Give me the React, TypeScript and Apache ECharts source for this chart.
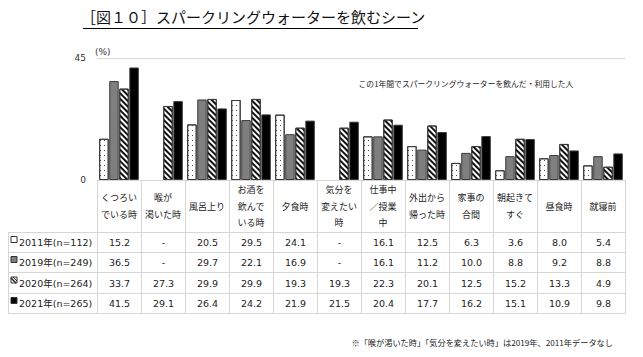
import { useEffect, useRef } from 'react';
import * as echarts from 'echarts';

const categories = [
  'くつろい\nでいる時', '喉が\n渇いた時', '風呂上り', 'お酒を\n飲んで\nいる時', '夕食時',
  '気分を\n変えたい\n時', '仕事中\n／授業\n中', '外出から\n帰った時', '家事の\n合間',
  '朝起きて\nすぐ', '昼食時', '就寝前',
];
const seriesNames = ['2011年(n=112)', '2019年(n=249)', '2020年(n=264)', '2021年(n=265)'];
const v2011 = [15.2, null, 20.5, 29.5, 24.1, null, 16.1, 12.5, 6.3, 3.6, 8.0, 5.4];
const v2019 = [36.5, null, 29.7, 22.1, 16.9, null, 16.1, 11.2, 10.0, 8.8, 9.2, 8.8];
const v2020 = [33.7, 27.3, 29.9, 29.9, 19.3, 19.3, 22.3, 20.1, 12.5, 15.2, 13.3, 4.9];
const v2021 = [41.5, 29.1, 26.4, 24.2, 21.9, 21.5, 20.4, 17.7, 16.2, 15.1, 10.9, 9.8];
const yMin = 0;
const yMax = 45;
const titleText = '［図１０］スパークリングウォーターを飲むシーン';
const noteText = 'この1年間でスパークリングウォーターを飲んだ・利用した人';
const footText = '※「喉が渇いた時」「気分を変えたい時」は2019年、2011年データなし';

const CJK = '"Noto Sans CJK JP", sans-serif';
const NUM = '"DejaVu Sans", "Noto Sans CJK JP", sans-serif';

export default function App() {
  const ref = useRef<HTMLDivElement>(null);
  useEffect(() => {
    if (!ref.current) return;
    const chart = echarts.init(ref.current, undefined, { renderer: 'svg' });
    const W = 643;
    const gridLeft = 97;
    const gridRight = 625;
    const gridTop = 58;
    const axisY = 180;
    const colW = (gridRight - gridLeft) / categories.length;
    const rowLines = [232, 252, 272, 293, 313];
    const tableLeft = 8;
    const lineColor = '#d6d6d6';
    const allSeries = [v2011, v2019, v2020, v2021];

    const graphics: any[] = [];
    graphics.push({
      type: 'text', x: 253, y: 16,
      style: { text: titleText, fontSize: 15, fontFamily: CJK, fill: '#111', align: 'center', verticalAlign: 'middle' },
    });
    graphics.push({ type: 'line', shape: { x1: 83, y1: 28.5, x2: 418, y2: 28.5 }, style: { stroke: '#000', lineWidth: 1 } });
    graphics.push({
      type: 'text', x: 95, y: 52,
      style: { text: '(%)', fontSize: 9, fontFamily: NUM, fill: '#333', align: 'left', verticalAlign: 'middle' },
    });
    graphics.push({
      type: 'text', x: 466, y: 83,
      style: { text: noteText, fontSize: 7.8, fontFamily: CJK, fill: '#222', align: 'center', verticalAlign: 'middle' },
    });
    graphics.push({
      type: 'text', x: 613, y: 342,
      style: { text: footText, fontSize: 8.2, fontFamily: CJK, fill: '#222', align: 'right', verticalAlign: 'middle' },
    });
    // table lines
    for (let i = 0; i <= categories.length; i++) {
      const x = Math.round(gridLeft + colW * i) + 0.5;
      graphics.push({ type: 'line', shape: { x1: x, y1: axisY, x2: x, y2: rowLines[rowLines.length - 1] }, style: { stroke: lineColor, lineWidth: 1 } });
    }
    graphics.push({ type: 'line', shape: { x1: tableLeft + 0.5, y1: rowLines[0], x2: tableLeft + 0.5, y2: rowLines[rowLines.length - 1] }, style: { stroke: lineColor, lineWidth: 1 } });
    rowLines.forEach((y) => {
      graphics.push({ type: 'line', shape: { x1: tableLeft, y1: y + 0.5, x2: gridRight + 1, y2: y + 0.5 }, style: { stroke: lineColor, lineWidth: 1 } });
    });
    // rows
    allSeries.forEach((vals, r) => {
      const cy = (rowLines[r] + rowLines[r + 1]) / 2 + 0.5;
      const mx = 11, my = cy - 6, ms = 6;
      if (r === 0) {
        graphics.push({ type: 'rect', shape: { x: mx, y: my, width: ms, height: ms }, style: { fill: '#fff', stroke: '#333', lineWidth: 1 } });
      } else if (r === 1) {
        graphics.push({ type: 'rect', shape: { x: mx, y: my, width: ms, height: ms }, style: { fill: '#7f7f7f', stroke: '#333', lineWidth: 1 } });
      } else if (r === 2) {
        graphics.push({ type: 'rect', shape: { x: mx, y: my, width: ms, height: ms }, style: { fill: '#fff', stroke: '#333', lineWidth: 1 } });
        graphics.push({ type: 'line', shape: { x1: mx, y1: my + 1, x2: mx + ms - 1, y2: my + ms }, style: { stroke: '#222', lineWidth: 1.4 } });
        graphics.push({ type: 'line', shape: { x1: mx + 2, y1: my, x2: mx + ms, y2: my + ms - 2 }, style: { stroke: '#222', lineWidth: 1 } });
      } else {
        graphics.push({ type: 'rect', shape: { x: mx, y: my, width: ms, height: ms }, style: { fill: '#000', stroke: '#333', lineWidth: 1 } });
      }
      graphics.push({
        type: 'text', x: 19, y: cy,
        style: { text: seriesNames[r], fontSize: 9.5, fontFamily: NUM, fill: '#222', align: 'left', verticalAlign: 'middle' },
      });
      vals.forEach((v, i) => {
        graphics.push({
          type: 'text', x: gridLeft + colW * i + colW / 2 + 0.5, y: cy,
          style: { text: v == null ? '-' : v.toFixed(1), fontSize: 9.5, fontFamily: NUM, fill: '#222', align: 'center', verticalAlign: 'middle' },
        });
      });
    });

    const border = { borderColor: '#3a3a3a', borderWidth: 1 };
    chart.setOption({
      animation: false,
      backgroundColor: '#fff',
      grid: { left: gridLeft, right: W - gridRight, top: gridTop, bottom: 357 - axisY, containLabel: false },
      xAxis: {
        type: 'category',
        data: categories,
        axisLine: { show: true, lineStyle: { color: lineColor } },
        axisTick: { show: false },
        axisLabel: { interval: 0, fontSize: 9, lineHeight: 16.5, fontFamily: CJK, color: '#222', verticalAlign: 'middle', margin: 26 },
      },
      yAxis: {
        type: 'value', min: yMin, max: yMax, interval: yMax - yMin,
        axisLine: { show: false }, axisTick: { show: false },
        axisLabel: { fontSize: 9, fontFamily: NUM, color: '#333', margin: 11 },
        splitLine: { show: true, lineStyle: { color: lineColor } },
      },
      series: [
        {
          name: seriesNames[0], type: 'bar', data: v2011, barCategoryGap: '10%', barGap: '6%',
          itemStyle: {
            color: '#fff', ...border,
            decal: { symbol: 'rect', symbolSize: 1, color: '#555', dashArrayX: [1, 3], dashArrayY: [1, 4], rotation: 0 },
          },
        },
        { name: seriesNames[1], type: 'bar', data: v2019, itemStyle: { color: '#7f7f7f', ...border } },
        {
          name: seriesNames[2], type: 'bar', data: v2020,
          itemStyle: {
            color: '#fff', ...border,
            decal: { symbol: 'rect', symbolSize: 1, color: '#111', dashArrayX: [1, 0], dashArrayY: [2, 2], rotation: Math.PI / 4 },
          },
        },
        { name: seriesNames[3], type: 'bar', data: v2021, itemStyle: { color: '#000', ...border } },
      ],
      graphic: graphics,
    });
    return () => chart.dispose();
  }, []);
  return <div ref={ref} style={{ position: 'fixed', left: 0, top: 0, width: 643, height: 357 }} />;
}
